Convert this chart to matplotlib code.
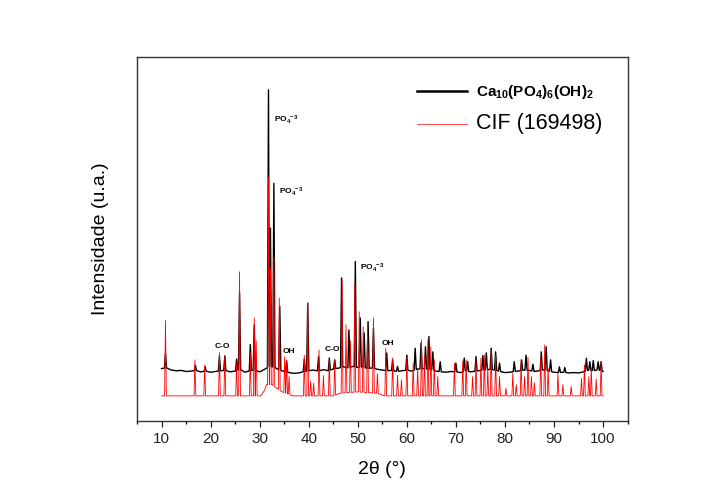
import numpy as np
import matplotlib
matplotlib.use("Agg")
import matplotlib.pyplot as plt
import matplotlib.ticker as ticker

plt.rcParams['font.family'] = ['Liberation Sans', 'DejaVu Sans']
plt.rcParams['mathtext.fontset'] = 'custom'
plt.rcParams['mathtext.rm'] = 'Liberation Sans'
plt.rcParams['mathtext.bf'] = 'Liberation Sans:bold'

# measured pattern: baseline every 1 degree, then the reflections on top
exp_base_x = np.arange(10, 101, 1.0)
exp_base_y = np.array([
    14.4, 14.6, 14.0, 13.8, 13.9, 13.6, 13.7, 13.9, 13.5, 13.7,
    13.4, 13.6, 13.8, 13.9, 13.5, 13.7, 14.2, 13.4, 13.8, 14.0,
    13.5, 14.2, 15.0, 14.8, 14.0, 13.6, 13.3, 13.1, 13.2, 13.6,
    13.8, 14.0, 13.7, 14.1, 13.8, 14.3, 14.5, 14.9, 14.6, 15.0,
    14.7, 14.9, 14.4, 14.6, 14.2, 14.0, 13.8, 13.9, 13.6, 13.8,
    14.0, 13.7, 14.2, 14.4, 14.3, 14.1, 13.7, 13.5, 13.4, 13.6,
    13.5, 13.3, 13.8, 13.5, 13.7, 13.9, 14.0, 14.2, 14.0, 13.6,
    13.3, 13.4, 13.6, 13.8, 14.0, 13.9, 13.6, 13.8, 14.1, 13.7,
    13.4, 13.3, 13.4, 13.2, 13.3, 13.2, 13.5, 14.0, 13.8, 14.1, 13.6])
exp_pos = [10.8, 16.9, 18.9, 21.8, 22.9, 25.3, 25.9, 28.1, 28.9, 31.8,
           32.2, 32.9, 34.1, 35.5, 39.1, 39.8, 42.0, 44.2, 45.3, 46.7,
           48.2, 49.5, 50.5, 51.3, 52.1, 53.2, 55.9, 57.1, 58.1, 60.0,
           61.7, 62.9, 63.8, 64.5, 65.3, 66.8, 70.0, 71.7, 72.4, 74.1,
           75.5, 76.2, 77.2, 78.1, 78.9, 81.9, 83.4, 84.3, 85.7, 87.4,
           88.4, 89.3, 91.1, 92.2, 96.6, 97.3, 98.0, 99.0, 99.6]
exp_int = [18.5, 15.3, 14.9, 17.9, 17.9, 17.0, 35.2, 21.0, 26.4, 91.0,
           53.0, 65.3, 31.5, 16.5, 17.0, 32.4, 17.7, 17.3, 16.8, 39.3,
           25.0, 43.8, 28.3, 24.2, 27.3, 25.5, 18.7, 16.8, 15.0, 18.1,
           20.0, 21.4, 20.4, 23.2, 19.0, 16.3, 15.9, 17.3, 16.3, 17.7,
           18.0, 18.7, 20.0, 19.0, 15.9, 16.3, 16.8, 18.1, 15.6, 19.0,
           20.4, 16.8, 14.9, 14.7, 17.2, 16.3, 16.6, 16.3, 16.3]

# CIF 169498 simulated pattern
cif_base_x = np.array([10, 30.2, 30.9, 31.4, 32.5, 33.5, 34.6, 35.8, 36.8, 45.0,
                       46.3, 50.0, 54.0, 55.5, 100])
cif_base_y = np.array([6.9, 6.9, 8.2, 10.0, 10.0, 9.0, 8.0, 7.4, 6.9, 6.9,
                       7.6, 8.0, 7.6, 6.9, 6.9])
cif_pos = [10.8, 16.8, 18.8, 21.8, 22.9, 25.3, 25.9, 28.1, 28.9, 29.3,
           31.8, 32.2, 32.9, 34.0, 35.1, 35.5, 36.0, 39.1, 39.8, 40.4,
           41.0, 42.1, 43.0, 44.2, 45.3, 46.8, 47.6, 48.5, 49.4, 50.3,
           51.1, 52.0, 53.2, 54.0, 55.7, 57.1, 58.1, 58.9, 60.0, 61.3,
           62.2, 63.0, 63.6, 64.3, 64.9, 65.6, 66.3, 69.7, 71.4, 72.1,
           73.4, 74.1, 75.1, 75.8, 76.5, 77.2, 78.1, 78.9, 80.2, 81.6,
           82.3, 83.3, 84.0, 84.7, 85.4, 86.0, 87.3, 88.1, 88.8, 90.8,
           91.8, 93.5, 95.6, 96.2, 97.1, 97.6, 98.6, 99.6]
cif_int = [27.6, 16.8, 15.4, 18.8, 17.9, 16.0, 41.0, 18.7, 28.3, 22.0,
           67.0, 42.0, 45.0, 33.8, 17.7, 16.8, 12.2, 18.1, 32.4, 11.0,
           10.4, 19.5, 12.5, 17.0, 16.5, 38.7, 26.4, 22.0, 37.8, 30.0,
           25.9, 26.4, 28.3, 13.0, 20.0, 17.3, 12.6, 11.3, 17.5, 15.9,
           14.5, 22.3, 18.0, 22.3, 20.4, 16.8, 12.2, 15.9, 16.5, 16.8,
           12.2, 16.8, 17.3, 18.1, 14.5, 19.5, 18.0, 12.2, 9.0, 13.1,
           10.0, 16.8, 12.2, 17.5, 12.2, 10.5, 17.7, 20.9, 14.5, 13.0,
           10.0, 9.5, 11.7, 15.4, 12.2, 14.5, 11.5, 16.3]

# band labels: text, 2theta, height, alignment
po4 = r'$\mathbf{PO_4{}^{-3}}$'
band_txt = ['C-O', 'OH', 'C-O', 'OH', po4, po4, po4]
band_x = [22.3, 36.0, 44.9, 56.2, 32.9, 34.0, 50.4]
band_y = [20.4, 19.0, 19.7, 21.3, 82.7, 63.0, 42.1]
band_ha = ['center', 'center', 'center', 'center', 'left', 'left', 'left']


def stick_trace(base_x, base_y, pos, height, hw):
    # baseline vertices plus a narrow triangle for each reflection
    pos = np.asarray(pos, dtype=float)
    height = np.asarray(height, dtype=float)
    keep = ~np.any(np.abs(base_x[:, None] - pos[None, :]) <= hw, axis=1)
    foot_l = np.interp(pos - hw, base_x, base_y)
    foot_r = np.interp(pos + hw, base_x, base_y)
    x = np.concatenate([base_x[keep], pos - hw, pos, pos + hw])
    y = np.concatenate([base_y[keep], foot_l, height, foot_r])
    order = np.argsort(x, kind='stable')
    return x[order], y[order]


ex, ey = stick_trace(exp_base_x, exp_base_y, exp_pos, exp_int, 0.22)
cx, cy = stick_trace(cif_base_x, cif_base_y, cif_pos, cif_int, 0.18)

fig = plt.figure(figsize=(7.11, 5.0), dpi=100)
ax = fig.add_axes([0.1927, 0.158, 0.69, 0.728])

ax.plot(ex, ey, color='black', lw=1.0, label=r'$\mathbf{Ca_{10}(PO_4)_6(OH)_2}$', zorder=5)
ax.plot(cx, cy, color='#ff0000', lw=0.6, label='CIF (169498)', zorder=6)

for t, x, y, ha in zip(band_txt, band_x, band_y, band_ha):
    ax.text(x, y, t, fontsize=6, fontweight='bold', ha=ha, va='center', zorder=10)

ax.set_xlim(5, 105)
ax.set_ylim(0, 100)
ax.xaxis.set_major_locator(ticker.MultipleLocator(10))
ax.xaxis.set_minor_locator(ticker.MultipleLocator(5))
ax.xaxis.set_major_formatter(ticker.FuncFormatter(lambda v, p: "%d" % v if v >= 10 and v <= 100 else ""))
ax.tick_params(axis='x', which='major', direction='out', length=4.5, width=0.9, labelsize=11, colors='#222222')
ax.tick_params(axis='x', which='minor', direction='out', length=2.5, width=0.9)
ax.set_yticks([])
for s in ax.spines.values():
    s.set_color('#333333')
    s.set_linewidth(1.0)

ax.set_xlabel('2\u03b8 (\u00b0)', fontsize=14, labelpad=11)
ax.set_ylabel('Intensidade (u.a.)', fontsize=14, labelpad=20)

leg = ax.legend(loc='upper left', bbox_to_anchor=(0.56, 0.945), frameon=False,
                handlelength=3.6, handletextpad=0.6, labelspacing=0.9, borderaxespad=0,
                fontsize=10)
txts = leg.get_texts()
txts[0].set_fontsize(11)
txts[1].set_fontsize(15.5)
leg.get_lines()[0].set_linewidth(1.8)
leg.get_lines()[1].set_linewidth(0.5)

plt.savefig('out.png', dpi=100)
